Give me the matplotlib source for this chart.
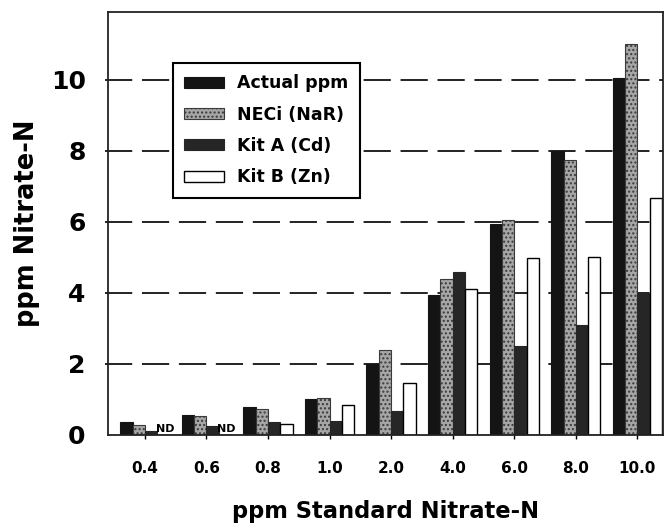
import numpy as np
import matplotlib
matplotlib.use("Agg")
from matplotlib import pyplot as plt

plt.rcParams['font.family'] = ['DejaVu Sans']
plt.rcParams['font.weight'] = 'bold'

# standard concentrations (x categories)
standards = ["0.4", "0.6", "0.8", "1.0", "2.0", "4.0", "6.0", "8.0", "10.0"]

# measured values, ppm nitrate-N (None = not detected)
actual = [0.35, 0.55, 0.79, 1.0, 2.0, 3.95, 5.95, 8.0, 10.05]
neci = [0.27, 0.52, 0.73, 1.04, 2.4, 4.4, 6.05, 7.75, 11.0]
kit_a = [0.11, 0.24, 0.36, 0.38, 0.68, 4.6, 2.5, 3.1, 4.0]
kit_b = [None, None, 0.31, 0.84, 1.47, 4.12, 4.98, 5.0, 6.68]

fig = plt.figure(figsize=(6.7, 5.31), dpi=100)
ax = fig.add_axes([0.161, 0.181, 0.829, 0.796])

x = np.arange(len(standards))
w = 0.2

for v in [2, 4, 6, 8, 10]:
    ax.plot([-0.65, 8.42], [v, v], color='#222222', lw=1.4,
            dashes=(14, 5), zorder=0, clip_on=False)

ax.bar(x - 1.5 * w, actual, w, color='#141414', edgecolor='#141414',
       lw=0.8, label='Actual ppm', zorder=2)
ax.bar(x - 0.5 * w, neci, w, color='#a6a6a6', edgecolor='#3a3a3a',
       hatch='....', lw=0.8, label='NECi (NaR)', zorder=2)
ax.bar(x + 0.5 * w, kit_a, w, color='#262626', edgecolor='#262626',
       lw=0.8, label='Kit A (Cd)', zorder=2)
kb = [v if v is not None else 0 for v in kit_b]
ax.bar(x + 1.5 * w, kb, w, color='white', edgecolor='black',
       lw=1.0, label='Kit B (Zn)', zorder=2)

for i, v in enumerate(kit_b):
    if v is None:
        ax.text(x[i] + 1.5 * w + 0.03, 0.03, "ND", fontsize=8, ha='center',
                va='bottom', zorder=3)

ax.set_xlim(-0.6, 8.42)
ax.set_ylim(0, 11.9)
ax.set_xticks(x)
ax.set_xticklabels(standards, fontsize=11, fontweight='bold')
ax.set_yticks([0, 2, 4, 6, 8, 10])
ax.set_yticklabels(["0", "2", "4", "6", "8", "10"], fontsize=18,
                   fontweight='bold')
ax.tick_params(axis='x', length=3, width=1, pad=16)
ax.tick_params(axis='y', length=0, pad=16)

for s in ax.spines.values():
    s.set_linewidth(1.3)
    s.set_color('#222222')

ax.set_xlabel("ppm Standard Nitrate-N", fontsize=16.3, fontweight='bold',
              labelpad=17)
ax.set_ylabel("ppm Nitrate-N", fontsize=18.5, fontweight='bold', labelpad=8)

leg = ax.legend(loc='upper left', bbox_to_anchor=(0.117, 0.88),
                fontsize=12.5, frameon=True, fancybox=False,
                handlelength=2.3, handleheight=0.6, labelspacing=0.77,
                borderpad=0.65, handletextpad=0.75, borderaxespad=0)
leg.get_frame().set_edgecolor('black')
leg.get_frame().set_linewidth(1.5)
leg.get_frame().set_alpha(1)
for t in leg.get_texts():
    t.set_fontweight('bold')

fig.savefig("out.png", dpi=100)
